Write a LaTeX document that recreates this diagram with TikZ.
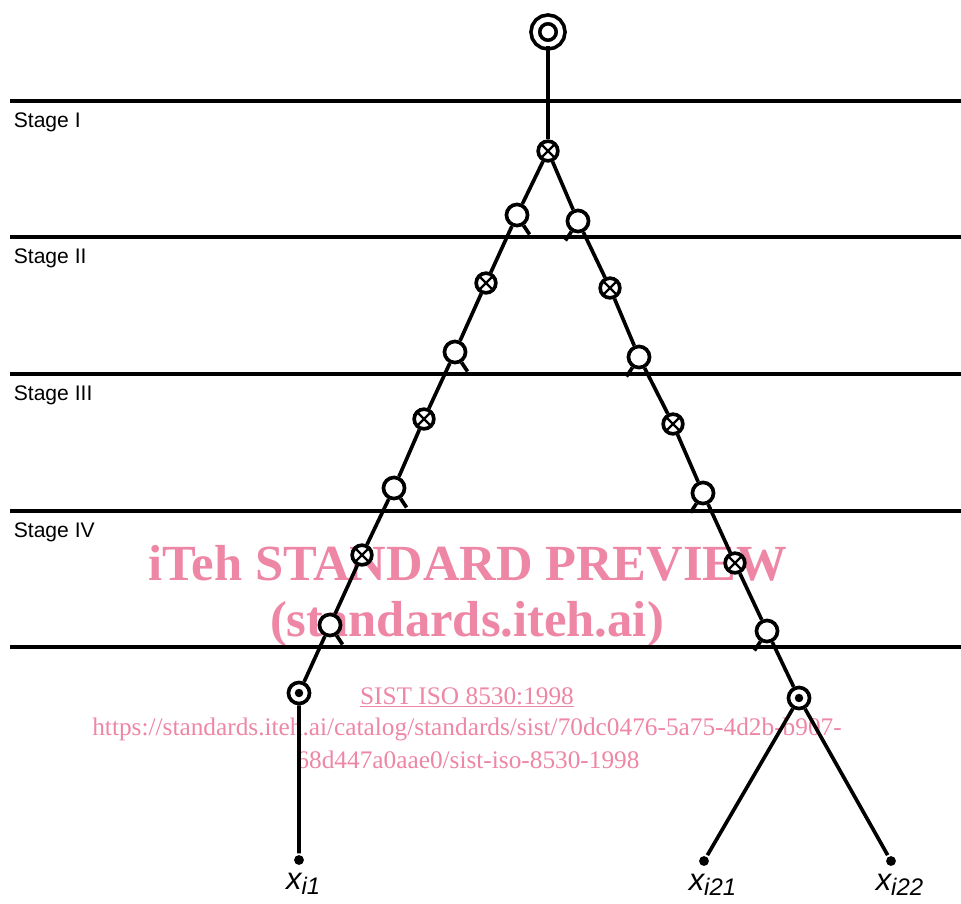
\documentclass[tikz,border=0pt]{standalone}
\usepackage{fontspec}
\setmainfont{Liberation Serif}
\setsansfont{Liberation Sans}
\usetikzlibrary{positioning}
\definecolor{wmpink}{RGB}{238,134,166}

\begin{document}
\begin{tikzpicture}[
  x=0.025cm, y=-0.025cm,
  line width=2.6pt,
  stageline/.style={draw, line width=2.7pt},
  stagelbl/.style={anchor=base west, inner sep=0pt, font=\sffamily\fontsize{15}{17}\selectfont},
  src/.style={circle, draw, double, double distance=3.5pt, minimum size=18pt, inner sep=0pt},
  mult/.style={circle, draw, fill=white, minimum size=14pt, inner sep=0pt,
    path picture={\draw[black, line width=1.6pt] (path picture bounding box.north west) -- (path picture bounding box.south east)
      (path picture bounding box.north east) -- (path picture bounding box.south west);}},
  opn/.style={circle, draw, fill=white, minimum size=15pt, inner sep=0pt},
  obs/.style={circle, draw, fill=white, minimum size=15pt, inner sep=0pt,
    path picture={\fill[black] (path picture bounding box.center) circle (3pt);}},
  tip/.style={circle, fill, minimum size=7pt, inner sep=0pt},
  leaf/.style={inner sep=0pt, font=\sffamily\itshape\fontsize{22}{24}\selectfont},
  wmbig/.style={anchor=base, inner sep=0pt, text=wmpink, font=\bfseries\fontsize{36}{40}\selectfont},
  wmsmall/.style={anchor=base, inner sep=0pt, text=wmpink, font=\fontsize{18}{20}\selectfont}
]
\useasboundingbox (0,0) rectangle (961,903);

% watermark
\node[wmbig] (wm1) at (468,580) {iTeh STANDARD PREVIEW};
\node[wmbig] (wm2) at (467,636) {(standards.iteh.ai)};
\node[wmsmall] (wm3) at (467,704) {\underline{SIST ISO 8530:1998}};
\node[wmsmall] (wm4) at (467,735) {https://standards.iteh.ai/catalog/standards/sist/70dc0476-5a75-4d2b-b907-};
\node[wmsmall] (wm5) at (468,768) {68d447a0aae0/sist-iso-8530-1998};

% stages
\foreach \y/\name in {101/I, 237/II, 374/III, 511/IV} {
  \draw[stageline] (10,\y) -- (961,\y);
  \node[stagelbl] (st\name) at (12,\y+26) {Stage \name};
}
\draw[stageline] (10,647) -- (961,647);

% tree
\node[src] (top) at (548,32) {};
\node[mult] (r0) at (548,151) {};

\node[opn]  (a1) at (517,215) {};
\node[mult] (a2) at (486,283) {};
\node[opn]  (a3) at (455,352) {};
\node[mult] (a4) at (424,419) {};
\node[opn]  (a5) at (394,488) {};
\node[mult] (a6) at (362,555) {};
\node[opn]  (a7) at (330,625) {};
\node[obs]  (a8) at (299,693) {};
\node[tip]  (a9) at (299,860) {};

\node[opn]  (b1) at (578,221) {};
\node[mult] (b2) at (610,288) {};
\node[opn]  (b3) at (639,357) {};
\node[mult] (b4) at (673,424) {};
\node[opn]  (b5) at (703,493) {};
\node[mult] (b6) at (735,563) {};
\node[opn]  (b7) at (767,631) {};
\node[obs]  (b8) at (799,698) {};
\node[tip]  (b9) at (704,861) {};
\node[tip]  (b10) at (891,861) {};

\draw (top) -- (r0);
\draw (r0) -- (a1) -- (a2) -- (a3) -- (a4) -- (a5) -- (a6) -- (a7) -- (a8) -- (a9);
\draw (r0) -- (b1) -- (b2) -- (b3) -- (b4) -- (b5) -- (b6) -- (b7) -- (b8);
\draw (b8) -- (b9);
\draw (b8) -- (b10);

% legs under the open circles
\foreach \n in {a1,a3,a5,a7}
  \draw (\n.-58) -- ++(6,9);
\foreach \n in {b1,b3,b5,b7}
  \draw (\n.-122) -- ++(-6,9);

\node[leaf, below=3pt of a9, xshift=3pt] (xa) {x\raisebox{-0.3ex}{\fontsize{17}{19}\selectfont i1}};
\node[leaf, below=3pt of b9, xshift=6pt] (xb) {x\raisebox{-0.3ex}{\fontsize{17}{19}\selectfont i21}};
\node[leaf, below=3pt of b10, xshift=6pt] (xc) {x\raisebox{-0.3ex}{\fontsize{17}{19}\selectfont i22}};
\end{tikzpicture}
\end{document}
